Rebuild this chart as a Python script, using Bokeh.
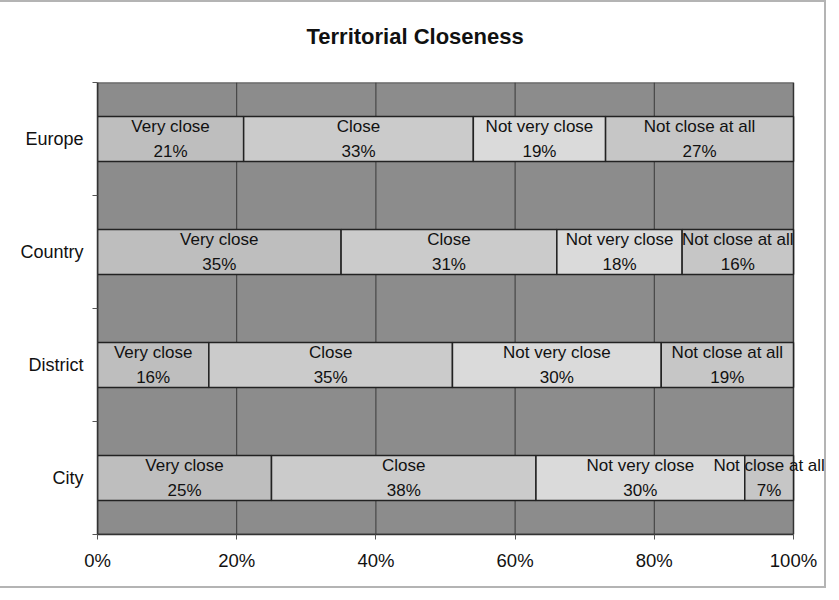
from bokeh.plotting import figure
from bokeh.models import FixedTicker, Title, Range1d, Label
from bokeh.embed import file_html
from bokeh.resources import INLINE

categories = ["City", "District", "Country", "Europe"]
levels = ["Very close", "Close", "Not very close", "Not close at all"]
very_close = [25, 16, 35, 21]
close = [38, 35, 31, 33]
not_very_close = [30, 30, 18, 19]
not_close_at_all = [7, 19, 16, 27]
x_ticks = [0, 20, 40, 60, 80, 100]
x_tick_labels = ["0%", "20%", "40%", "60%", "80%", "100%"]
colors = ["#bebebe", "#cbcbcb", "#dadada", "#c6c6c6"]

series = [very_close, close, not_very_close, not_close_at_all]

FONT = "Liberation Sans"
n_cat = len(categories)

# x range runs a bit past 100% so that overflowing labels are not clipped
p = figure(width=828, height=588, output_backend="svg", toolbar_location=None,
           x_range=Range1d(0, 105.03), y_range=Range1d(0, n_cat),
           min_border_left=97, min_border_right=0, min_border_top=80, min_border_bottom=56)
p.styles = {"border": "2px solid #b4b4b4", "margin-left": "-2px"}
p.background_fill_color = "white"
p.border_fill_color = "white"
p.outline_line_color = None
p.grid.visible = False

# plot area background (0..100%, all categories)
p.quad(left=[x_ticks[0]], right=[x_ticks[-1]], bottom=[0], top=[n_cat],
       fill_color="#8c8c8c", line_color="#333333", line_width=1.5)
# vertical gridlines
p.segment(x0=x_ticks[1:-1], y0=[0] * 4, x1=x_ticks[1:-1], y1=[n_cat] * 4,
          line_color="#3a3a3a", line_width=1)

ys = [i + 0.5 for i in range(n_cat)]
rows = {"y": [], "left": [], "right": [], "color": []}
for si, vals in enumerate(series):
    for ci, v in enumerate(vals):
        left = sum(series[k][ci] for k in range(si))
        rows["y"].append(ys[ci])
        rows["left"].append(left)
        rows["right"].append(left + v)
        rows["color"].append(colors[si])
        for txt, off in ((levels[si], 13), (f"{v}%", -12)):
            p.add_layout(Label(x=left + v / 2, y=ys[ci], text=txt, y_offset=off,
                               text_align="center", text_baseline="middle",
                               text_font=FONT, text_font_size="17px",
                               text_color="#111111"))

p.hbar(y="y", left="left", right="right", height=0.4, fill_color="color",
       line_color="#222222", line_width=1.5, source=rows)

# x axis
p.xaxis.bounds = (x_ticks[0], x_ticks[-1])
p.xaxis.ticker = FixedTicker(ticks=x_ticks)
p.xaxis.major_label_overrides = {t: l for t, l in zip(x_ticks, x_tick_labels)}
p.xaxis.major_label_text_font = FONT
p.xaxis.major_label_text_font_size = "18.5px"
p.xaxis.major_label_text_color = "#111111"
p.xaxis.axis_line_color = "#333333"
p.xaxis.axis_line_width = 1.5
p.xaxis.major_tick_out = 5
p.xaxis.major_tick_in = 0
p.xaxis.major_tick_line_color = "#555555"
p.xaxis.minor_tick_line_color = None
p.xaxis.major_label_standoff = 10

# y axis
p.yaxis.ticker = FixedTicker(ticks=ys, minor_ticks=list(range(n_cat + 1)))
p.yaxis.major_label_overrides = {y: c for y, c in zip(ys, categories)}
p.yaxis.major_label_text_font = FONT
p.yaxis.major_label_text_font_size = "18px"
p.yaxis.major_label_text_color = "#111111"
p.yaxis.axis_line_color = "#333333"
p.yaxis.axis_line_width = 1.5
p.yaxis.major_tick_out = 0
p.yaxis.major_tick_in = 0
p.yaxis.minor_tick_out = 5
p.yaxis.minor_tick_in = 0
p.yaxis.minor_tick_line_color = "#555555"
p.yaxis.major_label_standoff = 9

# spacer panel between the frame and the title (pushes the title upwards)
p.add_layout(Title(text=" ", text_font=FONT, text_font_size="22px", standoff=0), "above")

p.title = Title(text="Territorial Closeness", align="left", offset=209,
                text_font=FONT, text_font_size="22px", text_font_style="bold",
                text_color="#111111", standoff=13)

open("out.html", "w").write(file_html(p, INLINE))
